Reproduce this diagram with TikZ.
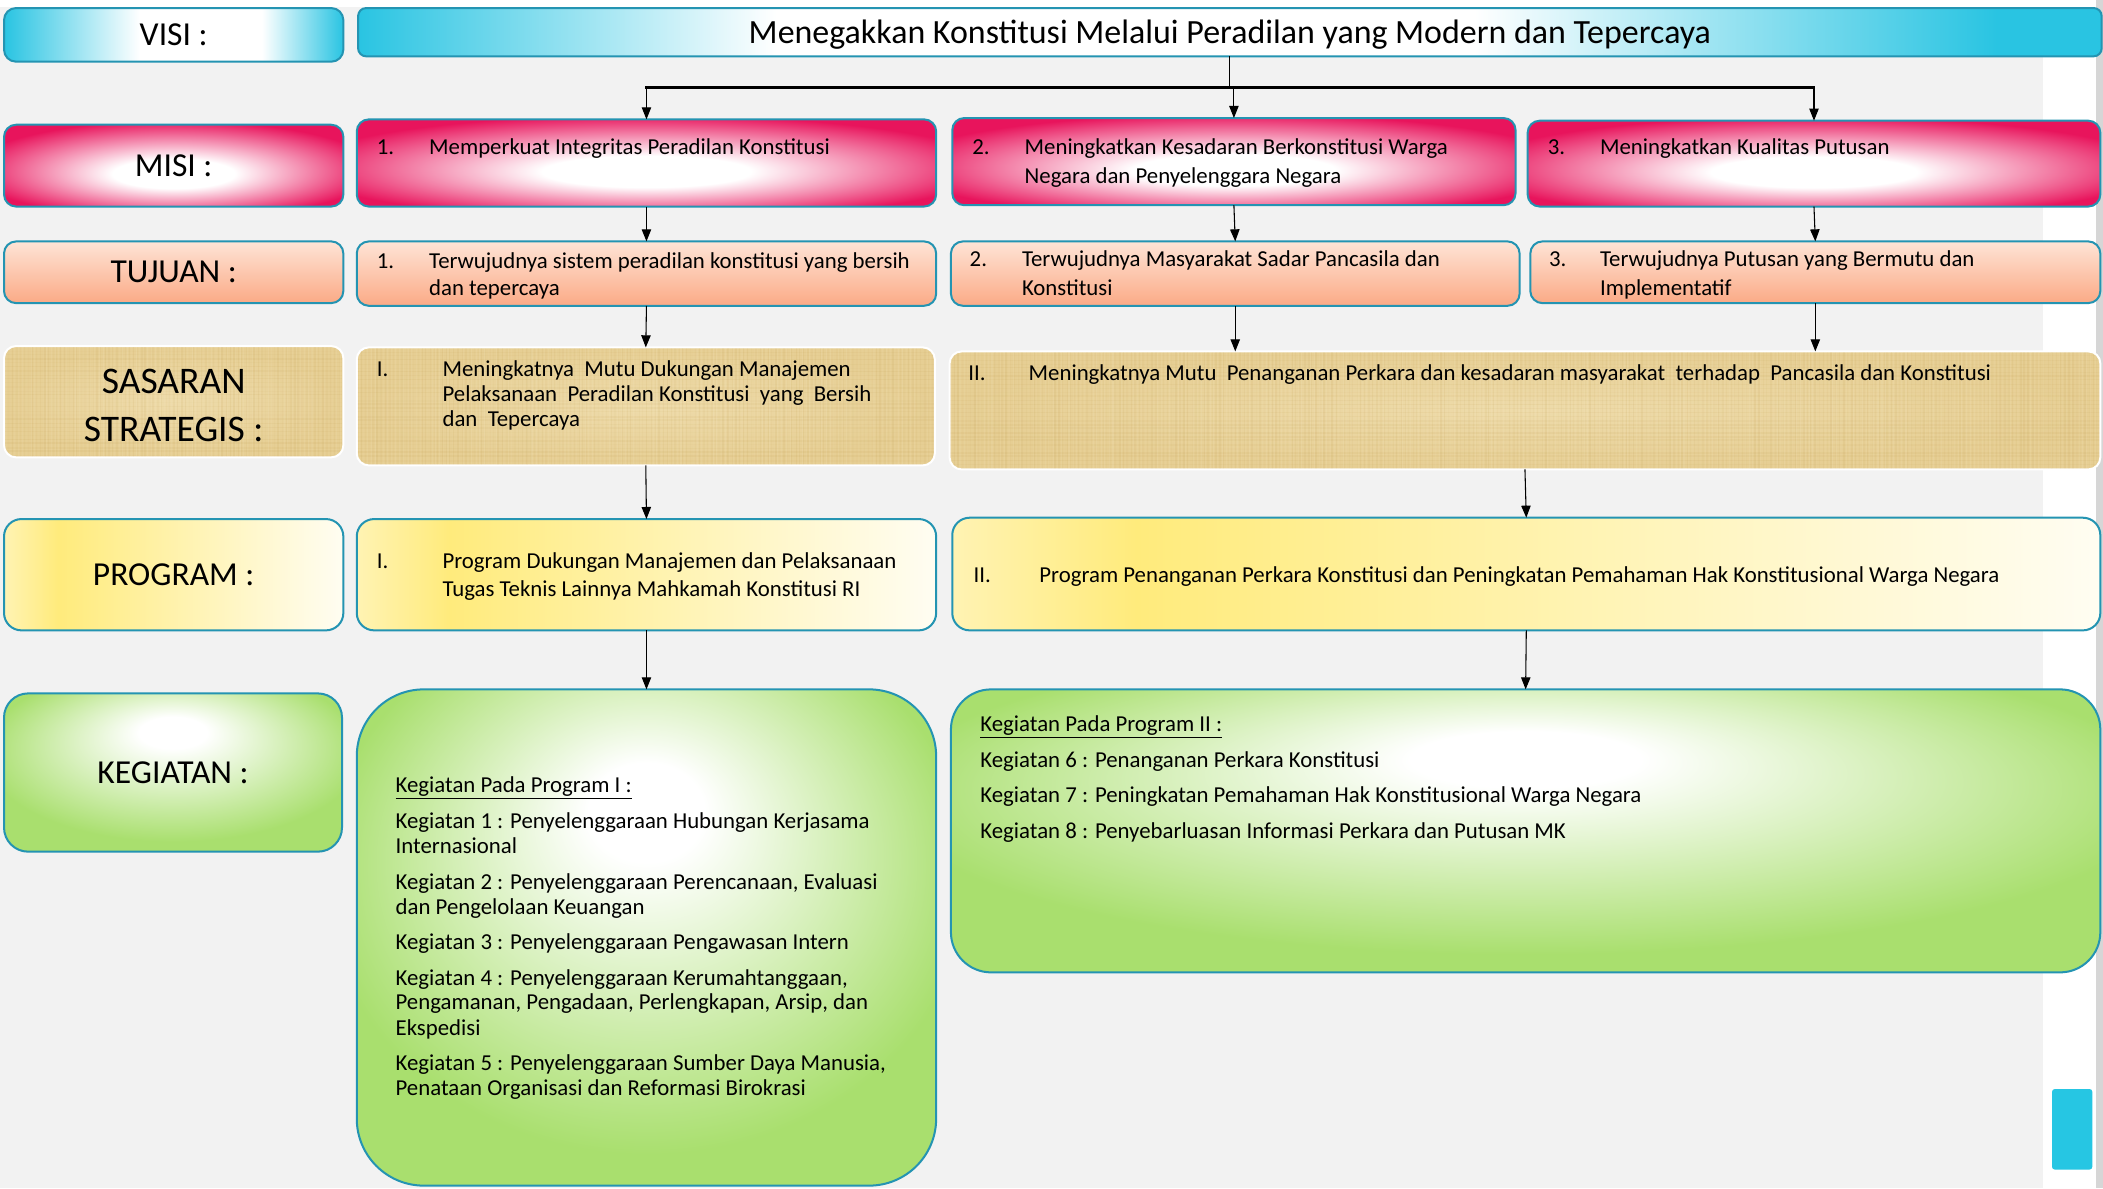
\documentclass[tikz,border=0pt]{standalone}
\usepackage{fontspec}
\setmainfont{Carlito}
\usetikzlibrary{arrows.meta,calc}
\definecolor{bg}{HTML}{F2F2F2}
\definecolor{cy}{HTML}{29C4E2}
\definecolor{cybar}{HTML}{26C6E3}
\definecolor{pk}{HTML}{E8145C}
\definecolor{bord}{HTML}{2494B2}
\definecolor{tjTop}{HTML}{FEE4D6}
\definecolor{tjBot}{HTML}{FBAA86}
\definecolor{parchL}{HTML}{EEDBAA}
\definecolor{parchD}{HTML}{E6CE93}
\definecolor{parchLine}{HTML}{C29F52}
\definecolor{parchHi}{HTML}{F7EBC8}
\definecolor{yl}{HTML}{FFEB7C}
\definecolor{ylL}{HTML}{FFF3B3}
\definecolor{ylR}{HTML}{FFFDF2}
\definecolor{gr}{HTML}{A9DF6E}
\definecolor{edgegray}{HTML}{D6D6D6}
\pgfdeclarehorizontalshading{visish}{100bp}{color(0bp)=(cy); color(25bp)=(cy); color(45bp)=(white); color(63bp)=(white); color(75bp)=(cy); color(100bp)=(cy)}
\pgfdeclarehorizontalshading{titlesh}{100bp}{color(0bp)=(cy); color(25bp)=(cy); color(37bp)=(white); color(57bp)=(white); color(72bp)=(cy); color(100bp)=(cy)}
\pgfdeclarehorizontalshading{progsh}{100bp}{color(0bp)=(ylL); color(25bp)=(ylL); color(33bp)=(yl); color(75bp)=(ylR); color(100bp)=(ylR)}
\pgfdeclareradialshading{misish}{\pgfpoint{0bp}{-6bp}}{color(0bp)=(white); color(9bp)=(white); color(30bp)=(pk); color(50bp)=(pk)}
\pgfdeclareradialshading{kegsh}{\pgfpoint{0bp}{14bp}}{color(0bp)=(white); color(5bp)=(white); color(28bp)=(gr); color(50bp)=(gr)}
\newcommand\parchtex[4]{%
  \begin{scope}
    \clip[rounded corners=8pt] ($(#1,#2)+(0.8,0.8)$) rectangle ($(#3,#4)+(-0.8,-0.8)$);
    \pgfmathtruncatemacro\nx{(#3-#1)/3}
    \pgfmathtruncatemacro\ny{(#4-#2)/3}
    \foreach \i in {0,...,\nx}{
      \pgfmathsetmacro\xx{#1+3*\i+rnd}
      \pgfmathsetmacro\op{0.02+0.10*rnd}
      \draw[parchLine, line width=1pt, opacity=\op] (\xx,#2) -- (\xx,#4);
    }
    \foreach \i in {0,...,\ny}{
      \pgfmathsetmacro\yy{#2+3*\i+rnd}
      \pgfmathsetmacro\op{0.02+0.09*rnd}
      \draw[parchLine, line width=1pt, opacity=\op] (#1,\yy) -- (#3,\yy);
    }
    \foreach \i in {0,...,\nx}{
      \pgfmathsetmacro\xx{#1+3*\i+1.5+rnd}
      \pgfmathsetmacro\op{0.03+0.12*rnd}
      \draw[parchHi, line width=0.8pt, opacity=\op] (\xx,#2) -- (\xx,#4);
    }
  \end{scope}}
\begin{document}
\begin{tikzpicture}[x=1pt,y=-1pt,
  box/.style={anchor=north west, inner sep=0pt, outer sep=0pt, line width=1.5pt, draw=bord, rounded corners=9pt},
  lbl/.style={font=\fontsize{25}{30}\selectfont},
  txt/.style={anchor=base west, inner sep=0pt, outer sep=0pt, font=\fontsize{17}{20}\selectfont},
  visibox/.style={box, shade, shading=visish},
  titlebox/.style={box, shade, shading=titlesh, rounded corners=6pt},
  misibox/.style={box, shade, shading=misish},
  tujbox/.style={box, top color=tjTop, bottom color=tjBot},
  sasbox/.style={box, draw=white, inner color=parchL, outer color=parchD},
  progbox/.style={box, shade, shading=progsh, rounded corners=13pt},
  kegbox/.style={box, shade, shading=kegsh},
  arr/.style={-{Triangle[length=9pt,width=7pt]}, line width=0.8pt, black},
  busline/.style={line width=2.2pt, black, line cap=rect}]
\useasboundingbox (0,0) rectangle (1568,886);
\pgfmathsetseed{4242}
% background
\fill[bg] (0,0) rectangle (1568,886);
\fill[white] (0,0) rectangle (1568,5);
\fill[white] (1523,0) rectangle (1568,886);
\fill[edgegray] (1563,0) rectangle (1568,886);
\fill[cybar, rounded corners=2pt] (1530,812) rectangle (1560,872);

% row labels
\node[visibox, minimum width=253pt, minimum height=40pt, lbl] (vl) at (3,6) {VISI :};
\node[misibox, minimum width=253pt, minimum height=61pt, lbl] (ml) at (3,93) {MISI :};
\node[tujbox, minimum width=253pt, minimum height=46pt, lbl] (tl) at (3,180) {TUJUAN :};
\node[sasbox, minimum width=253pt, minimum height=83pt] (sl) at (3,258) {};
\node[progbox, minimum width=253pt, minimum height=83pt, lbl] (pl) at (3,387) {PROGRAM :};
\node[kegbox, minimum width=252pt, minimum height=118pt, rounded corners=18pt, lbl] (kl) at (3,517) {KEGIATAN :};

% visi
\node[titlebox, minimum width=1300pt, minimum height=36pt, text depth=0pt, font=\fontsize{25.3}{28}\selectfont] (vt) at (267,6) {Menegakkan Konstitusi Melalui Peradilan yang Modern dan Tepercaya};

% misi
\node[misibox, minimum width=432pt, minimum height=65pt] (m1) at (266,89) {};
\node[misibox, minimum width=420pt, minimum height=65pt] (m2) at (710,88) {};
\node[misibox, minimum width=427pt, minimum height=64pt] (m3) at (1139,90) {};
\node[txt] (m1n) at (281,115) {1.};
\node[txt] (m1a) at (320,115) {Memperkuat Integritas Peradilan Konstitusi};
\node[txt] (m2n) at (725,115.5) {2.};
\node[txt] (m2a) at (764,115.5) {Meningkatkan Kesadaran Berkonstitusi Warga};
\node[txt] (m2b) at (764,136.5) {Negara dan Penyelenggara Negara};
\node[txt] (m3n) at (1154,115) {3.};
\node[txt] (m3a) at (1193,115) {Meningkatkan Kualitas Putusan};

% tujuan
\node[tujbox, minimum width=432pt, minimum height=48pt] (t1) at (266,180) {};
\node[tujbox, minimum width=424pt, minimum height=48pt] (t2) at (709,180) {};
\node[tujbox, minimum width=425pt, minimum height=46pt] (t3) at (1141,180) {};
\node[txt] (t1n) at (281,200) {1.};
\node[txt] (t1a) at (320,200) {Terwujudnya sistem peradilan konstitusi yang bersih};
\node[txt] (t1b) at (320,220) {dan tepercaya};
\node[txt] (t2n) at (723,199) {2.};
\node[txt] (t2a) at (762,199) {Terwujudnya Masyarakat Sadar Pancasila dan};
\node[txt] (t2b) at (762,220) {Konstitusi};
\node[txt] (t3n) at (1155,199) {3.};
\node[txt] (t3a) at (1193,199) {Terwujudnya Putusan yang Bermutu dan};
\node[txt] (t3b) at (1193,220) {Implementatif};

% sasaran
\node[sasbox, minimum width=431pt, minimum height=88pt] (s1) at (266,259) {};
\node[sasbox, minimum width=858pt, minimum height=88pt] (s2) at (708,262) {};
\parchtex{3}{258}{256}{341}
\parchtex{266}{259}{697}{347}
\parchtex{708}{262}{1566}{350}
\node[align=center, inner sep=0pt, font=\fontsize{28}{36}\selectfont] (slt) at ([yshift=-3pt]sl.center) {SASARAN\\STRATEGIS :};
\node[txt] (s1n) at (281,281) {I.};
\node[txt] (s1a) at (330,281) {Meningkatnya\ \ Mutu Dukungan Manajemen};
\node[txt] (s1b) at (330,299.5) {Pelaksanaan\ \ Peradilan Konstitusi\ \ yang\ \ Bersih};
\node[txt] (s1c) at (330,318) {dan\ \ Tepercaya};
\node[txt] (s2n) at (722,283.5) {II.};
\node[txt] (s2a) at (767,283.5) {Meningkatnya Mutu\ \ Penanganan Perkara dan kesadaran masyarakat\ \ terhadap\ \ Pancasila dan Konstitusi};

% program
\node[progbox, minimum width=432pt, minimum height=83pt] (p1) at (266,387) {};
\node[progbox, minimum width=856pt, minimum height=84pt] (p2) at (710,386) {};
\node[txt] (p1n) at (281,424) {I.};
\node[txt] (p1a) at (330,424) {Program Dukungan Manajemen dan Pelaksanaan};
\node[txt] (p1b) at (330,445) {Tugas Teknis Lainnya Mahkamah Konstitusi RI};
\node[txt] (p2n) at (726,434) {II.};
\node[txt] (p2a) at (775,434) {Program Penanganan Perkara Konstitusi dan Peningkatan Pemahaman Hak Konstitusional Warga Negara};

% kegiatan
\node[kegbox, minimum width=432pt, minimum height=370pt, rounded corners=50pt] (k1) at (266,514) {};
\node[kegbox, minimum width=857pt, minimum height=211pt, rounded corners=30pt] (k2) at (709,514) {};
\node[txt] (k1h) at (295,591) {\underline{Kegiatan Pada Program I :}};
\foreach \yy/\kt [count=\i] in {
  617.5/{Kegiatan 1 : Penyelenggaraan Hubungan Kerjasama},
  636/{Internasional},
  663/{Kegiatan 2 : Penyelenggaraan Perencanaan, Evaluasi},
  682/{dan Pengelolaan Keuangan},
  708/{Kegiatan 3 : Penyelenggaraan Pengawasan Intern},
  734.5/{Kegiatan 4 : Penyelenggaraan Kerumahtanggaan,},
  753/{Pengamanan, Pengadaan, Perlengkapan, Arsip, dan},
  772/{Ekspedisi},
  798/{Kegiatan 5 : Penyelenggaraan Sumber Daya Manusia,},
  816.5/{Penataan Organisasi dan Reformasi Birokrasi}}
  \node[txt] (k1l\i) at (295,\yy) {\kt};
\node[txt] (k2h) at (731,545.5) {\underline{Kegiatan Pada Program II :}};
\foreach \yy/\kt [count=\i] in {
  572/{Kegiatan 6 : Penanganan Perkara Konstitusi},
  598.5/{Kegiatan 7 : Peningkatan Pemahaman Hak Konstitusional Warga Negara},
  625/{Kegiatan 8 : Penyebarluasan Informasi Perkara dan Putusan MK}}
  \node[txt] (k2l\i) at (731,\yy) {\kt};

% connectors
\coordinate (bus) at ($(vt.south)+(0,23)$);
\draw[line width=0.8pt] (vt.south) -- (bus);
\draw[busline] (m1.north |- bus) -- (m3.north |- bus);
\draw[arr] (m1.north |- bus) -- (m1.north);
\draw[arr] (m2.north |- bus) -- (m2.north);
\draw[arr] (m3.north |- bus) -- (m3.north);
\draw[arr] (m1.south) -- (t1.north);
\draw[arr] (m2.south) -- (t2.north);
\draw[arr] (m3.south) -- (t3.north);
\draw[arr] (t1.south) -- (s1.north);
\draw[arr] (t2.south) -- (t2.south |- s2.north);
\draw[arr] (t3.south) -- (t3.south |- s2.north);
\draw[arr] (s1.south) -- (p1.north);
\draw[arr] (s2.south) -- (p2.north);
\draw[arr] (p1.south) -- (k1.north);
\draw[arr] (p2.south) -- (k2.north);
\end{tikzpicture}
\end{document}
